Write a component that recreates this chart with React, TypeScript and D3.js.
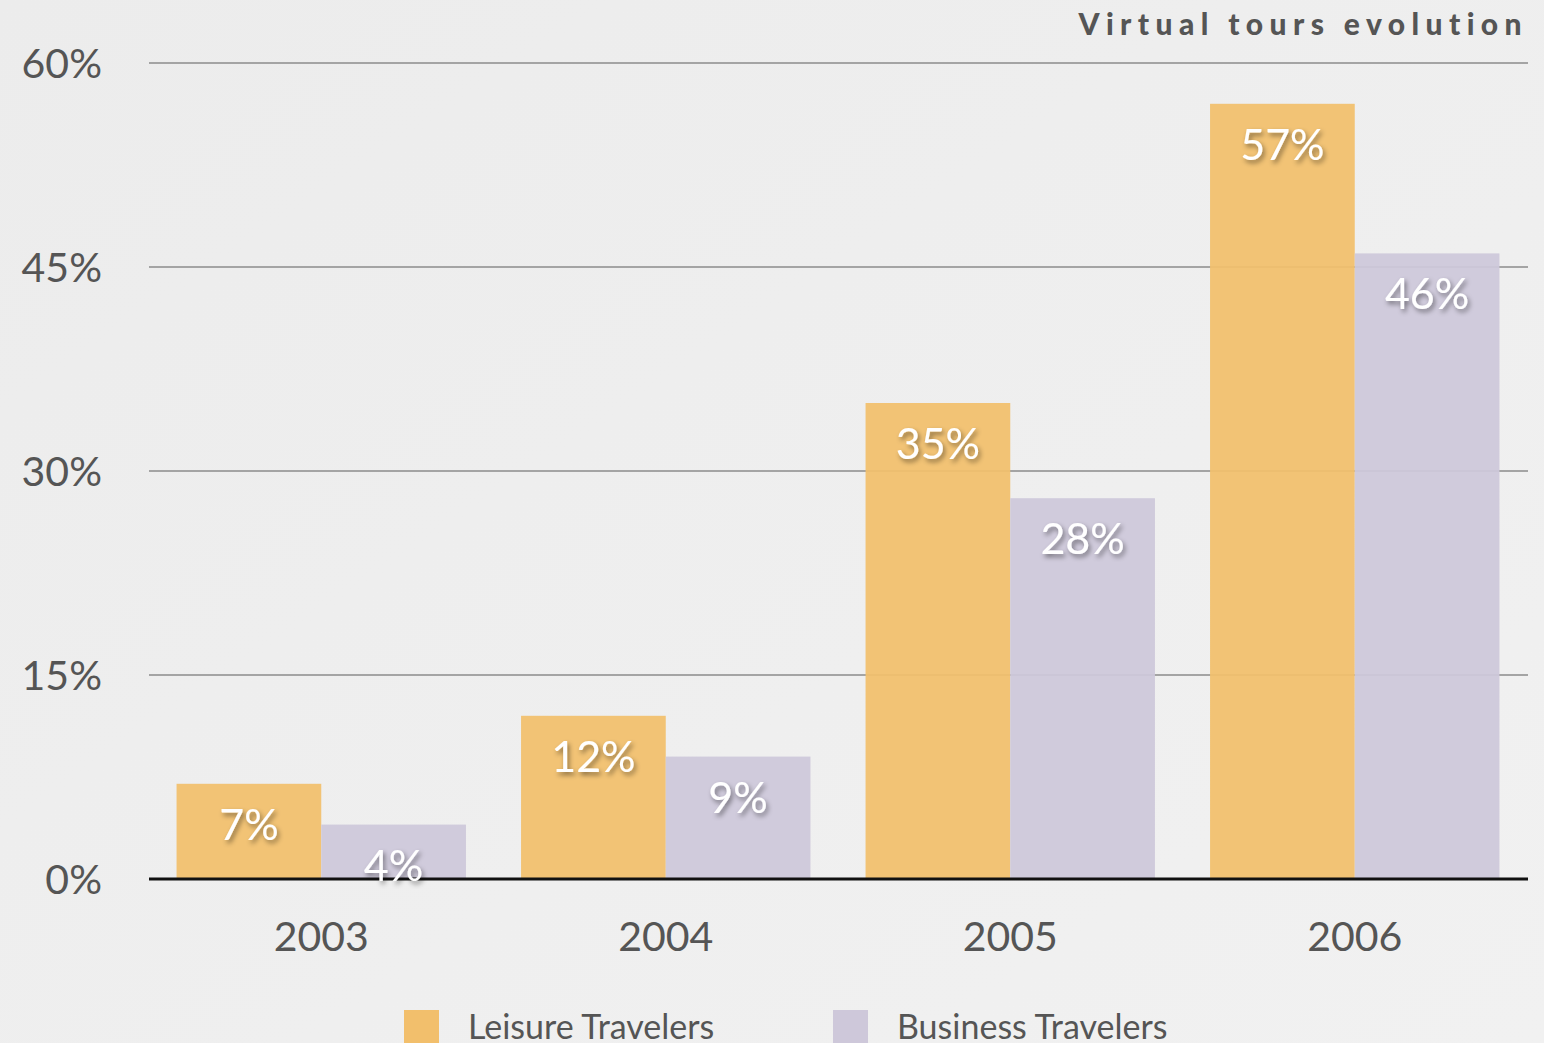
import React, { useEffect } from "react";
import * as d3 from "d3";

const years = ["2003", "2004", "2005", "2006"];
const series = ["Leisure Travelers", "Business Travelers"];
const leisure = [7, 12, 35, 57];
const business = [4, 9, 28, 46];
const yTicks = [0, 15, 30, 45, 60];
const colors = ["#f2bf6c", "#cec8da"];
const title = "Virtual tours evolution";

const W = 1544;
const H = 1043;

export default function App() {
  useEffect(() => {
    document.body.style.margin = "0";
  }, []);
  const x = d3.scaleBand<string>().domain(years).range([149, 1527]).paddingInner(0.16).paddingOuter(0.08);
  const x1 = d3.scaleBand<string>().domain(series).range([0, x.bandwidth()]);
  const y = d3.scaleLinear().domain([0, 60]).range([879, 63]);
  const values = [leisure, business];
  const font = "'Lato', 'Open Sans', sans-serif";

  return (
    <svg width={W} height={H} style={{ display: "block" }} fontFamily={font}>
      <defs>
        <linearGradient id="bg" x1="0" y1="0" x2="1" y2="1">
          <stop offset="0" stopColor="#ececec" />
          <stop offset="0.6" stopColor="#efefef" />
          <stop offset="1" stopColor="#f1f1f1" />
        </linearGradient>
        <filter id="shadow" x="-20%" y="-20%" width="140%" height="140%">
          <feDropShadow dx="2" dy="3" stdDeviation="2.5" floodColor="#000" floodOpacity="0.45" />
        </filter>
      </defs>
      <rect width={W} height={H} fill="url(#bg)" />
      <text x={1528} y={35} textAnchor="end" fontSize={30} fontWeight={900} letterSpacing={6.4} fill="#555">
        {title}
      </text>
      {yTicks.map((t) =>
        t === 0 ? null : (
          <line key={t} x1={149} x2={1528} y1={y(t)} y2={y(t)} stroke="#a4a4a4" strokeWidth={2} />
        )
      )}
      {yTicks.map((t) => (
        <text key={"l" + t} x={102} y={y(t) + 15} textAnchor="end" fontSize={41} fill="#555">
          {t}%
        </text>
      ))}
      {years.map((yr, i) => (
        <g key={yr} transform={`translate(${x(yr)},0)`}>
          {series.map((s, j) => {
            const v = values[j][i];
            return (
              <rect
                key={s}
                x={x1(s)}
                y={y(v)}
                width={x1.bandwidth()}
                height={y(0) - y(v)}
                fill={colors[j]}
                fillOpacity={0.93}
              />
            );
          })}
        </g>
      ))}
      <line x1={149} x2={1528} y1={y(0)} y2={y(0)} stroke="#111" strokeWidth={3} />
      {years.map((yr, i) => (
        <g key={"t" + yr} transform={`translate(${x(yr)},0)`}>
          {series.map((s, j) => {
            const v = values[j][i];
            return (
              <text
                key={s}
                x={(x1(s) as number) + x1.bandwidth() / 2}
                y={y(v) + 56}
                textAnchor="middle"
                fontSize={43}
                fill="#fff"
                filter="url(#shadow)"
              >
                {v}%
              </text>
            );
          })}
          <text x={x.bandwidth() / 2} y={951} textAnchor="middle" fontSize={41} fill="#555">
            {yr}
          </text>
        </g>
      ))}
      {series.map((s, j) => (
        <g key={"lg" + s} transform={`translate(${404 + j * 429},1010)`}>
          <rect x={0} y={0} width={35} height={40} fill={colors[j]} />
          <text x={64} y={29} fontSize={34} fill="#555">
            {s}
          </text>
        </g>
      ))}
    </svg>
  );
}
